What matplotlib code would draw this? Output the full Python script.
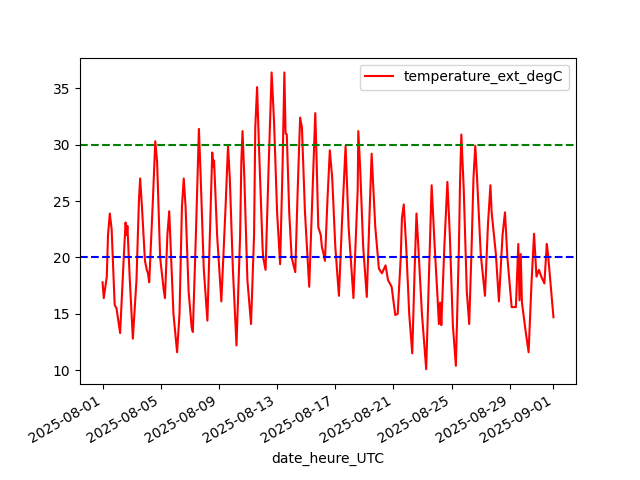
import numpy as np
import pandas as pd
import matplotlib
matplotlib.use("Agg")
import matplotlib.pyplot as plt

# hours since 2025-08-01 00:00 UTC and outdoor temperature
hours = [0, 2, 7, 9, 12, 15, 20, 23, 29, 35, 38, 40, 41, 45, 50, 56, 60, 62, 65, 70,
         73, 75, 77, 83, 87, 90, 95, 101, 103, 107, 110, 112, 117, 123,
         127, 131, 134, 137, 142, 147, 149, 154, 159, 162, 167, 173, 177, 181, 183, 184,
         189, 196, 203, 207, 210, 215, 221, 227, 229, 231, 234, 239, 245, 250, 252, 255,
         258, 264, 265, 269, 274, 279, 283, 288, 293, 297, 300, 302, 304, 308, 312, 318,
         322, 326, 329, 334, 341, 346, 351, 353, 356, 360, 362, 364, 367, 371, 375, 379,
         384, 390, 395, 401, 406, 414, 421, 422, 425, 430, 436, 440, 444, 447, 450, 456,
         461, 467, 471, 477, 483, 487, 492, 494, 497, 501, 506, 511, 515, 518, 521, 527,
         534, 539, 543, 548, 553, 555, 557, 559, 564, 569, 573, 578, 583, 588, 590, 592,
         596, 601, 605, 609, 612, 615, 618, 624, 631, 636, 640, 642, 649, 654, 660, 664,
         668, 675, 682, 686, 688, 690, 692, 698, 703, 708, 712, 716, 720, 724, 729, 733,
         735, 741, 744]
temps = [17.8, 16.4, 18.3, 22.0, 23.9, 22.5, 15.8, 15.5, 13.3, 20.0, 23.1, 22.0, 22.8, 18.0, 12.8, 18.0, 25.0, 27.0, 24.5, 19.7,
         18.9, 18.6, 17.8, 25.0, 30.3, 28.5, 20.0, 17.1, 16.4, 22.0, 24.1, 21.5, 15.0, 11.6,
         15.0, 24.5, 27.0, 24.5, 17.0, 13.8, 13.4, 22.0, 31.4, 27.0, 19.0, 14.4, 22.0, 29.3, 28.0, 28.6,
         22.0, 16.1, 24.5, 29.9, 27.0, 19.0, 12.2, 22.0, 28.5, 31.2, 27.0, 18.0, 14.1, 22.0, 31.5, 35.1,
         30.0, 20.9, 20.0, 18.9, 28.0, 36.4, 32.0, 24.0, 19.4, 28.0, 36.4, 31.0, 30.9, 24.0, 20.0, 18.7,
         26.0, 32.4, 31.5, 24.0, 17.4, 25.0, 32.8, 29.0, 22.7, 22.0, 20.9, 20.5, 19.7, 25.0, 29.5, 27.0,
         21.0, 16.6, 23.0, 29.9, 22.7, 16.4, 26.0, 31.2, 28.0, 21.0, 16.5, 23.0, 29.2, 26.0, 22.7, 19.0,
         18.6, 19.3, 18.0, 17.4, 14.9, 15.0, 20.0, 23.5, 24.7, 21.0, 15.0, 11.5, 19.0, 23.9, 21.0, 15.0,
         10.1, 19.0, 26.4, 21.0, 16.2, 14.1, 16.0, 14.0, 21.0, 26.7, 22.0, 14.0, 10.4, 21.0, 27.0, 30.9,
         26.0, 17.0, 14.1, 21.0, 27.0, 29.9, 27.0, 20.3, 16.6, 23.0, 26.4, 24.0, 20.3, 16.1, 22.0, 24.0,
         20.0, 15.6, 15.6, 21.2, 16.2, 20.3, 16.0, 13.5, 11.6, 18.0, 22.1, 18.3, 18.9, 18.3, 17.7, 21.2,
         20.3, 16.5, 14.7]

seuil_haut = 30
seuil_bas = 20

df = pd.DataFrame({
    "date_heure_UTC": pd.Timestamp("2025-08-01") + pd.to_timedelta(hours, unit="h"),
    "temperature_ext_degC": temps,
})

fig, ax = plt.subplots(figsize=(6.4, 4.8), dpi=100)
ax.plot(df["date_heure_UTC"], df["temperature_ext_degC"], color="red", label="temperature_ext_degC")
ax.axhline(seuil_haut, color="green", linestyle="--")
ax.axhline(seuil_bas, color="blue", linestyle="--")
ax.set_xlabel("date_heure_UTC")
ax.legend(loc="upper right")
fig.autofmt_xdate()
fig.savefig("out.png")
